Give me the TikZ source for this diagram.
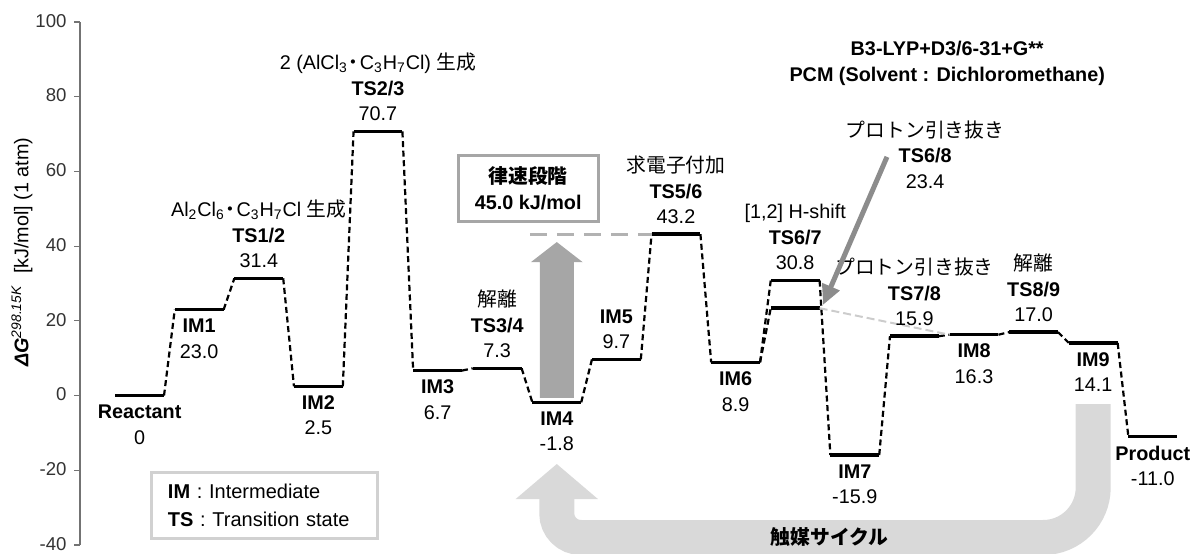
\documentclass[tikz,border=0pt]{standalone}
\usepackage{fontspec}
\setmainfont{Liberation Sans}
\newfontfamily\jp{Noto Sans CJK JP}
\usetikzlibrary{calc,math,arrows.meta}

\newcommand{\jdot}{\kern-0.2em{\jp ・}\kern-0.2em}

\begin{document}
\begin{tikzpicture}[x=29.8pt, y=1.868pt,
    lvl/.style={line width=1.75pt},
    conn/.style={line width=1.1pt, dash pattern=on 3pt off 1.8pt},
    lab/.style={align=center, inner sep=0pt, font=\fontsize{9.9}{12.75}\selectfont},
    below lab/.style={lab, anchor=north, yshift=-4.5pt},
    above lab/.style={lab, anchor=south, yshift=5pt},
    cyc/.style={line width=17.5pt, draw=black!15}]

    \tikzmath{\w = 0.41;}
    % frame of the picture
    \useasboundingbox (-1.342,-42.13) rectangle (18.708,105.89);
    \clip (-1.342,-42.13) rectangle (18.708,105.89);

    % vertical axis
    \draw[black!55, line width=0.6pt] (0,-40) -- (0,100);
    \foreach \v in {-40,-20,...,100} {
        \draw[black!55, line width=0.6pt] (-0.1,\v) -- (0,\v);
        \node[lab, anchor=east, text=black!80, font=\fontsize{9.3}{11}\selectfont, yshift=0.6pt]
            (t\v) at (-0.22,\v) {\v};
    }
    \node[lab, rotate=90] (ylab) at (-0.973,38.4)
        {\textbf{\textit{ΔG}}\textsuperscript{\textit{298.15K}}\ \ [kJ/mol] (1 atm)};

    % catalytic cycle (behind everything)
    \draw[cyc, rounded corners=25pt] (17,-2.25) -- (17,-37.98) -- (10,-37.98);
    \draw[cyc, rounded corners=12pt] (10.5,-37.98) -- (8,-37.98) -- (8,-27.6);
    \fill[black!15] (7.31,-27.68) -- (8.69,-27.68) -- (8,-18.31) -- cycle;
    \node[lab] (cyclab) at (12.58,-37.85) {\jp\bfseries 触媒サイクル};

    % rate determining step
    \fill[black!35] (8-0.285,-0.6) -- (8-0.285,35.7) -- (8-0.436,35.7) -- (8,41.1)
        -- (8+0.436,35.7) -- (8+0.285,35.7) -- (8+0.285,-0.6) -- cycle;
    \node[lab, draw=black!35, line width=1.5pt, minimum width=70pt, minimum height=33pt]
        (rds) at (7.52,55.5) {{\jp\bfseries 律速段階}\\\textbf{45.0 kJ/mol}};

    % energy levels
    \draw[lvl] (1-\w,0) coordinate (R-l) -- (1+\w,0) coordinate (R-r);
    \draw[lvl] (2-\w,23.0) coordinate (IM1-l) -- (2+\w,23.0) coordinate (IM1-r);
    \draw[lvl] (3-\w,31.4) coordinate (TS12-l) -- (3+\w,31.4) coordinate (TS12-r);
    \draw[lvl] (4-\w,2.5) coordinate (IM2-l) -- (4+\w,2.5) coordinate (IM2-r);
    \draw[lvl] (5-\w,70.7) coordinate (TS23-l) -- (5+\w,70.7) coordinate (TS23-r);
    \draw[lvl] (6-\w,6.7) coordinate (IM3-l) -- (6+\w,6.7) coordinate (IM3-r);
    \draw[lvl] (7-\w,7.3) coordinate (TS34-l) -- (7+\w,7.3) coordinate (TS34-r);
    \draw[lvl] (8-\w,-1.8) coordinate (IM4-l) -- (8+\w,-1.8) coordinate (IM4-r);
    \draw[lvl] (9-\w,9.7) coordinate (IM5-l) -- (9+\w,9.7) coordinate (IM5-r);
    \draw[lvl] (10-\w,43.2) coordinate (TS56-l) -- (10+\w,43.2) coordinate (TS56-r);
    \draw[lvl] (11-\w,8.9) coordinate (IM6-l) -- (11+\w,8.9) coordinate (IM6-r);
    \draw[lvl] (12-\w,30.8) coordinate (TS67-l) -- (12+\w,30.8) coordinate (TS67-r);
    \draw[lvl] (12-\w,23.4) coordinate (TS68-l) -- (12+\w,23.4) coordinate (TS68-r);
    \draw[lvl] (13-\w,-15.9) coordinate (IM7-l) -- (13+\w,-15.9) coordinate (IM7-r);
    \draw[lvl] (14-\w,15.9) coordinate (TS78-l) -- (14+\w,15.9) coordinate (TS78-r);
    \draw[lvl] (15-\w,16.3) coordinate (IM8-l) -- (15+\w,16.3) coordinate (IM8-r);
    \draw[lvl] (16-\w,17.0) coordinate (TS89-l) -- (16+\w,17.0) coordinate (TS89-r);
    \draw[lvl] (17-\w,14.1) coordinate (IM9-l) -- (17+\w,14.1) coordinate (IM9-r);
    \draw[lvl] (18-\w,-11.0) coordinate (P-l) -- (18+\w,-11.0) coordinate (P-r);

    % connect the levels
    \foreach \a/\b in {R/IM1, IM1/TS12, TS12/IM2, IM2/TS23, TS23/IM3, IM3/TS34, TS34/IM4,
        IM4/IM5, IM5/TS56, TS56/IM6, IM6/TS67, IM6/TS68, TS67/IM7, IM7/TS78, TS78/IM8,
        IM8/TS89, TS89/IM9, IM9/P}
        \draw[conn] (\a-r) -- (\b-l);
    \draw[black!20, line width=1pt, dash pattern=on 4pt off 2pt] (TS68-r) -- (IM8-l);
    \draw[black!30, line width=1.5pt, dash pattern=on 8.5pt off 5pt] (7.55,43.2) -- (TS56-l);

    % labels
    \node[below lab] (Rlab) at (1,0) {\textbf{Reactant}\\0};
    \node[below lab] (IM1lab) at (2,23.0) {\textbf{IM1}\\23.0};
    \node[above lab] (TS12lab) at (3,31.4)
        {Al\textsubscript{2}Cl\textsubscript{6}\jdot C\textsubscript{3}H\textsubscript{7}Cl {\jp 生成}\\\textbf{TS1/2}\\31.4};
    \node[below lab] (IM2lab) at (4,2.5) {\textbf{IM2}\\2.5};
    \node[above lab] (TS23lab) at (5,70.7)
        {2 (AlCl\textsubscript{3}\jdot C\textsubscript{3}H\textsubscript{7}Cl) {\jp 生成}\\\textbf{TS2/3}\\70.7};
    \node[below lab] (IM3lab) at (6,6.7) {\textbf{IM3}\\6.7};
    \node[above lab] (TS34lab) at (7,7.3) {{\jp 解離}\\\textbf{TS3/4}\\7.3};
    \node[below lab] (IM4lab) at (8,-1.8) {\textbf{IM4}\\-1.8};
    \node[above lab] (IM5lab) at (9,9.7) {\textbf{IM5}\\9.7};
    \node[above lab] (TS56lab) at (10,43.2) {{\jp 求電子付加}\\\textbf{TS5/6}\\43.2};
    \node[below lab] (IM6lab) at (11,8.9) {\textbf{IM6}\\8.9};
    \node[above lab] (TS67lab) at (12,30.8) {[1,2] H-shift\\\textbf{TS6/7}\\30.8};
    \node[lab, anchor=south] (TS68lab) at (14.18,55.4) {{\jp プロトン引き抜き}\\\textbf{TS6/8}\\23.4};
    \node[below lab] (IM7lab) at (13,-15.9) {\textbf{IM7}\\-15.9};
    \node[above lab] (TS78lab) at (14,15.9) {{\jp プロトン引き抜き}\\\textbf{TS7/8}\\15.9};
    \node[below lab] (IM8lab) at (15,16.3) {\textbf{IM8}\\16.3};
    \node[above lab] (TS89lab) at (16,17.0) {{\jp 解離}\\\textbf{TS8/9}\\17.0};
    \node[below lab] (IM9lab) at (17,14.1) {\textbf{IM9}\\14.1};
    \node[below lab] (Plab) at (18,-11.0) {\textbf{Product}\\-11.0};

    % pointer to TS6/8
    \coordinate (ptr) at (13.54,63.9);
    \draw[black!45, line width=2.5pt, -{Triangle[width=9pt,length=10pt]}]
        (ptr) -- ([shift={(1.7pt,1.6pt)}]TS68-r);

    % method and legend
    \node[lab] (method) at (14.55,88.9)
        {\textbf{B3-LYP+D3/6-31+G**}\\\textbf{PCM (Solvent : Dichloromethane)}};
    \node[lab, font=\fontsize{10}{14}\selectfont, align=left, draw=black!18, line width=1.5pt,
        text width=97pt, inner xsep=8pt, minimum height=33pt] (legend) at (3.104,-29.28)
        {\textbf{IM} : Intermediate\\\textbf{TS} : Transition state};

\end{tikzpicture}
\end{document}
